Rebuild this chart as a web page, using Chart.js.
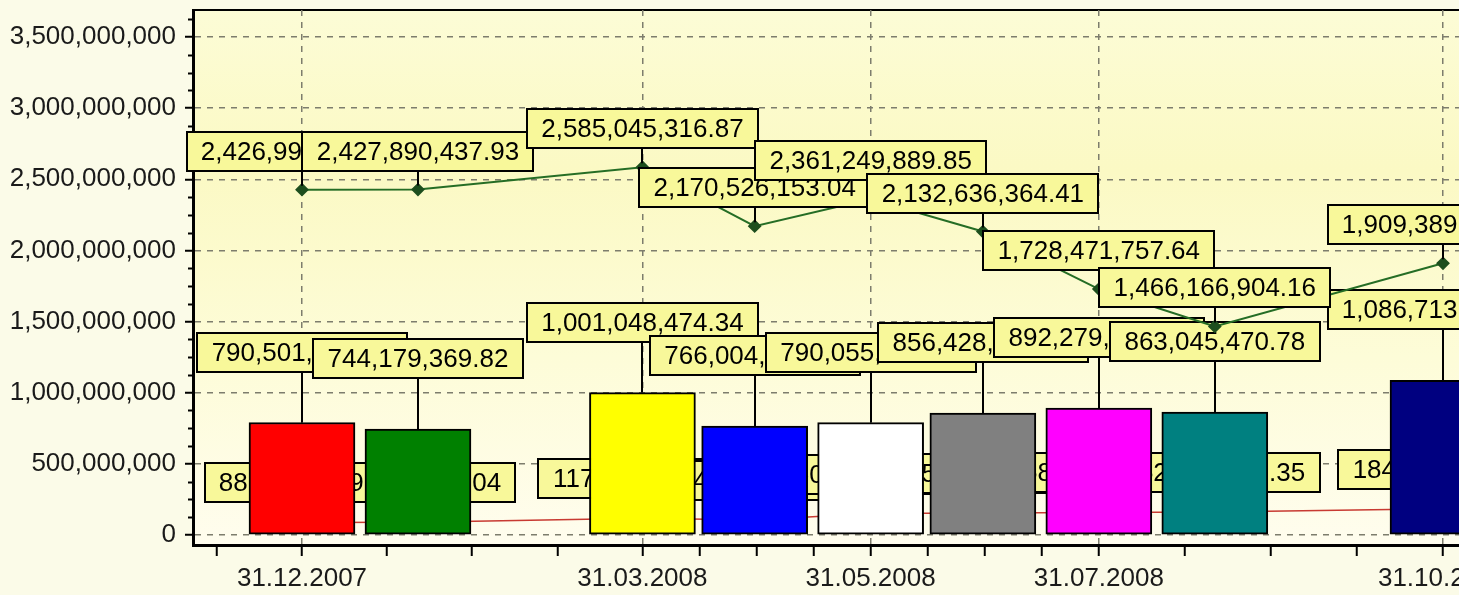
<!DOCTYPE html>
<html>
<head>
<meta charset="utf-8">
<title>Chart</title>
<script src="https://cdn.jsdelivr.net/npm/chart.js@4.4.1/dist/chart.umd.min.js"></script>
<style>
  html, body { margin: 0; padding: 0; overflow: hidden; background: #fbfbe8; }
  #wrap { width: 1700px; height: 595px; }
</style>
</head>
<body>
<div id="wrap"><canvas id="chart" width="1700" height="595"></canvas></div>
<script>
// data (hidden digits are guesses)
const dates = ['31.12.2007', '31.01.2008', '31.03.2008', '30.04.2008', '31.05.2008', '30.06.2008', '31.07.2008', '31.08.2008', '31.10.2008']
const barValues = [790501312.45, 744179369.82, 1001048474.34, 766004215.67, 790055608.12, 856428173.90, 892279541.26, 863045470.78, 1086713652.09]
const barColors = ['#ff0000', '#008000', '#ffff00', '#0000ff', '#ffffff', '#808080', '#ff00ff', '#008080', '#000080']
const greenValues = [2426993184.51, 2427890437.93, 2585045316.87, 2170526153.04, 2361249889.85, 2132636364.41, 1728471757.64, 1466166904.16, 1909389527.33]
const redValues = [88214635.72, 89573420.04, 117406218.55, 104862337.18, 150731904.63, 155402786.29, 158917345.81, 162384501.35, 184356720.48]
const xLabels = ['31.12.2007', '31.03.2008', '31.05.2008', '31.07.2008', '31.10.2008']
const yTicks = [0, 500000000, 1000000000, 1500000000, 2000000000, 2500000000, 3000000000, 3500000000]

const FONT = '"Liberation Sans", Arial, sans-serif'
const LABEL_FONT = '26px ' + FONT

function toDay(str) {
    const [d, m, y] = str.split('.').map(Number)
    const [d0, m0, y0] = dates[0].split('.').map(Number)
    return (Date.UTC(y, m - 1, d) - Date.UTC(y0, m0 - 1, d0)) / 86400000
}

function fmt(v) {
    return v.toLocaleString('en-US', { minimumFractionDigits: 2, maximumFractionDigits: 2 })
}

const xDays = dates.map(toDay)
const xLabelDays = xLabels.map(toDay)

// every labelled interval is split into 4 by small ticks
const xTickDays = []
xTickDays.push(xLabelDays[0] - (xLabelDays[1] - xLabelDays[0]) / 4)
for (let i = 0; i < xLabelDays.length - 1; i++) {
    const step = (xLabelDays[i + 1] - xLabelDays[i]) / 4
    for (let k = 0; k < 4; k++) xTickDays.push(xLabelDays[i] + k * step)
}
xTickDays.push(xLabelDays[xLabelDays.length - 1])

function isLabelDay(v) {
    return xLabelDays.some(d => Math.abs(d - v) < 0.01)
}

const pts = vals => xDays.map((x, i) => ({ x: x, y: vals[i] }))

const backgroundPlugin = {
    id: 'background',
    beforeDraw(chart) {
        const { ctx, chartArea: a } = chart
        ctx.save()
        ctx.fillStyle = '#fbfbe8'
        ctx.fillRect(0, 0, chart.width, chart.height)
        const g = ctx.createLinearGradient(0, a.top, 0, a.bottom)
        g.addColorStop(0, '#fcfcd6')
        g.addColorStop(0.3, '#fbf9c4')
        g.addColorStop(0.65, '#fdfcd8')
        g.addColorStop(1, '#fffdee')
        ctx.fillStyle = g
        ctx.fillRect(a.left, a.top, a.right - a.left, a.bottom - a.top)
        ctx.strokeStyle = '#000'
        ctx.lineWidth = 2
        ctx.beginPath()
        ctx.moveTo(a.left, a.top)
        ctx.lineTo(a.right, a.top)
        ctx.stroke()
        ctx.restore()
    },
    beforeDatasetsDraw(chart) {
        // small ticks on the value axis
        const { ctx, chartArea: a } = chart
        const y = chart.scales.y
        ctx.save()
        ctx.strokeStyle = '#000'
        ctx.lineWidth = 2
        for (let v = 125000000; v < y.max; v += 125000000) {
            if (v % 500000000 === 0) continue
            const py = Math.round(y.getPixelForValue(v)) + 0.5
            ctx.beginPath()
            ctx.moveTo(a.left - 5, py)
            ctx.lineTo(a.left, py)
            ctx.stroke()
        }
        ctx.restore()
    }
}

const labelPlugin = {
    id: 'valueLabels',
    afterDatasetDraw(chart, args) {
        const ds = chart.data.datasets[args.index]
        const ctx = chart.ctx
        ctx.save()
        ctx.font = LABEL_FONT
        args.meta.data.forEach((el, i) => {
            const text = fmt(ds.data[i].y)
            const w = Math.round(ctx.measureText(text).width + 29)
            const h = 39
            const bottom = Math.round(el.y - ds.labelGap)
            const left = Math.round(el.x - w / 2)
            ctx.strokeStyle = '#000'
            ctx.lineWidth = 2
            ctx.beginPath()
            ctx.moveTo(Math.round(el.x), el.y - ds.startGap)
            ctx.lineTo(Math.round(el.x), bottom)
            ctx.stroke()
            ctx.fillStyle = '#f8f89a'
            ctx.fillRect(left, bottom - h, w, h)
            ctx.strokeRect(left, bottom - h, w, h)
            ctx.fillStyle = '#000'
            ctx.textAlign = 'center'
            ctx.textBaseline = 'middle'
            ctx.fillText(text, el.x, bottom - h / 2 + 1)
        })
        ctx.restore()
    }
}

const ctx = document.getElementById('chart').getContext('2d')

new Chart(ctx, {
    type: 'bar',
    data: {
        datasets: [
            {
                type: 'line',
                label: 'red',
                data: pts(redValues),
                borderColor: '#c83a32',
                borderWidth: 1.5,
                pointRadius: 0,
                tension: 0,
                order: 3,
                labelGap: 20,
                startGap: 0
            },
            {
                type: 'bar',
                label: 'bars',
                data: pts(barValues),
                backgroundColor: barColors,
                borderColor: '#000',
                borderWidth: 2,
                borderSkipped: false,
                barThickness: 106,
                order: 2,
                labelGap: 51,
                startGap: 0
            },
            {
                type: 'line',
                label: 'green',
                data: pts(greenValues),
                borderColor: '#256d25',
                borderWidth: 2,
                pointStyle: 'rectRot',
                pointRadius: 5.5,
                pointBackgroundColor: '#1e4f1e',
                pointBorderColor: '#1e4f1e',
                tension: 0,
                order: 1,
                labelGap: 19,
                startGap: 4
            }
        ]
    },
    options: {
        responsive: false,
        devicePixelRatio: 1,
        animation: false,
        layout: { padding: { top: 10, right: 50, left: 0, bottom: 0 } },
        plugins: { legend: { display: false }, tooltip: { enabled: false } },
        scales: {
            x: {
                type: 'linear',
                min: -29.137,
                max: 360.33,
                offset: false,
                afterFit: s => {
                    s.height = 50
                    s.paddingLeft = 0
                    s.paddingRight = 0
                },
                afterBuildTicks: s => { s.ticks = xTickDays.map(v => ({ value: v })) },
                ticks: {
                    autoSkip: false,
                    maxRotation: 0,
                    padding: 7,
                    color: '#1a1a1a',
                    font: { family: FONT, size: 26 },
                    callback: v => {
                        const i = xLabelDays.findIndex(d => Math.abs(d - v) < 0.01)
                        return i >= 0 ? xLabels[i] : ''
                    }
                },
                grid: {
                    offset: false,
                    lineWidth: 1.5,
                    tickLength: 11,
                    tickWidth: 2,
                    tickColor: '#000',
                    color: c => (c.tick && isLabelDay(c.tick.value)) ? '#7d7d6d' : 'transparent'
                },
                border: { display: true, color: '#000', width: 3, dash: [6, 6] }
            },
            y: {
                min: -70280000,
                max: 3689750000,
                afterFit: s => {
                    s.width = 193
                    s.paddingTop = 0
                    s.paddingBottom = 0
                },
                afterBuildTicks: s => { s.ticks = yTicks.map(v => ({ value: v })) },
                ticks: {
                    padding: 9,
                    color: '#1a1a1a',
                    font: { family: FONT, size: 26 },
                    callback: v => v.toLocaleString('en-US')
                },
                grid: {
                    lineWidth: 1.5,
                    tickLength: 8,
                    tickWidth: 2,
                    tickColor: '#000',
                    color: '#7d7d6d'
                },
                border: { display: true, color: '#000', width: 3, dash: [6, 6] }
            }
        }
    },
    plugins: [backgroundPlugin, labelPlugin]
})
</script>
</body>
</html>
